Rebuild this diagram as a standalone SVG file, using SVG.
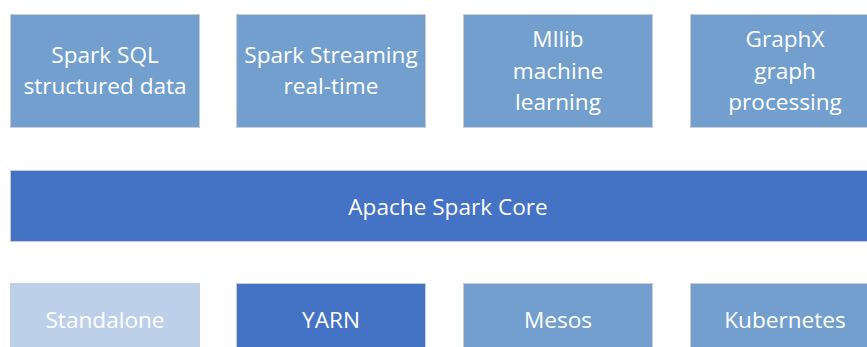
<svg xmlns="http://www.w3.org/2000/svg" width="867" height="347" viewBox="0 0 867 347">
<style>
.b{stroke:#C9CDD3;stroke-width:1}
.m{fill:#739FCE}
.d{fill:#4472C4}
.l{fill:#BDD0E9}
text{font-family:"Open Sans","Noto Sans","Liberation Sans",sans-serif;font-size:22.6px;fill:#FFFFFF;text-anchor:middle}
</style>
<rect width="867" height="347" fill="#FFFFFF"/>
<g id="spark-sql"><rect class="b m" x="10.5" y="14.5" width="189" height="113"/><text x="105" y="63">Spark SQL</text><text x="105" y="94">structured data</text></g>
<g id="spark-streaming"><rect class="b m" x="236.5" y="14.5" width="189" height="113"/><text x="331" y="63">Spark Streaming</text><text x="331" y="94">real-time</text></g>
<g id="mllib"><rect class="b m" x="463.5" y="14.5" width="189" height="113"/><text x="558" y="47">Mllib</text><text x="558" y="79">machine</text><text x="558" y="110">learning</text></g>
<g id="graphx"><rect class="b m" x="690.5" y="14.5" width="189" height="113"/><text x="785" y="47">GraphX</text><text x="785" y="79">graph</text><text x="785" y="110">processing</text></g>
<g id="core"><rect class="b d" x="10.5" y="170.5" width="870" height="71"/><text x="448" y="215">Apache Spark Core</text></g>
<g id="standalone"><rect class="b l" x="10.5" y="283.5" width="189" height="80"/><text x="105" y="328">Standalone</text></g>
<g id="yarn"><rect class="b d" x="236.5" y="283.5" width="189" height="80"/><text x="331" y="328">YARN</text></g>
<g id="mesos"><rect class="b m" x="463.5" y="283.5" width="189" height="80"/><text x="558" y="328">Mesos</text></g>
<g id="kubernetes"><rect class="b m" x="690.5" y="283.5" width="189" height="80"/><text x="785" y="328">Kubernetes</text></g>
<g id="connectors"></g>
</svg>
